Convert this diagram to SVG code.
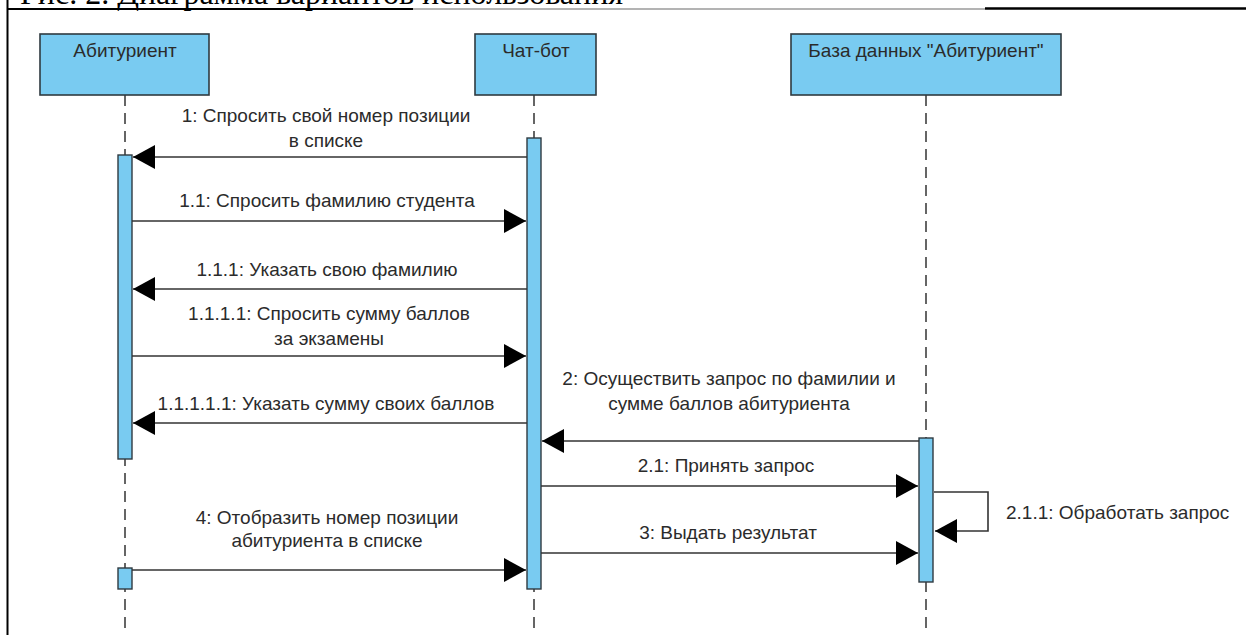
<svg xmlns="http://www.w3.org/2000/svg" width="1246" height="635" viewBox="0 0 1246 635">
<defs>
<style>
.head{fill:#79CBF1;stroke:#2f3a40;stroke-width:1.6}
.act{fill:#79CBF1;stroke:#2f3a40;stroke-width:1.4}
.life{stroke:#333;stroke-width:1.5;stroke-dasharray:11 7;fill:none}
.msg{stroke:#333;stroke-width:1.6;fill:none}
.lbl{font-family:"Liberation Sans",Arial,sans-serif;font-size:19px;fill:#2b2b2b;text-anchor:middle}
.title{font-family:"Liberation Serif","Times New Roman",serif;font-size:32px;fill:#000}
</style>
<marker id="ah" viewBox="0 0 22 24" refX="22" refY="12" markerWidth="22" markerHeight="24" markerUnits="userSpaceOnUse" orient="auto">
<path d="M0,0 L22,12 L0,24 Z" fill="#000"/>
</marker>
</defs>
<rect x="0" y="0" width="1246" height="635" fill="#fff"/>
<text class="title" x="20" y="4">Рис. 2. Диаграмма вариантов использования</text>
<g id="frame">
<line x1="7" y1="9" x2="413" y2="9" stroke="#000" stroke-width="2"/>
<line x1="413" y1="9" x2="985" y2="9" stroke="#9a9a9a" stroke-width="1.5"/>
<line x1="985" y1="8.5" x2="1246" y2="8.5" stroke="#000" stroke-width="2.5"/>
<line x1="7.5" y1="0" x2="7.5" y2="635" stroke="#000" stroke-width="2"/>
</g>
<g id="lifelines">
<line class="life" x1="125" y1="95" x2="125" y2="635"/>
<line class="life" x1="534" y1="95" x2="534" y2="635"/>
<line class="life" x1="926" y1="95" x2="926" y2="635"/>
</g>
<g id="node-abiturient">
<rect class="head" x="40" y="34" width="169" height="61"/>
<text class="lbl" x="125" y="57">Абитуриент</text>
<rect class="act" x="118" y="155" width="14" height="304"/>
<rect class="act" x="118" y="568" width="14" height="21"/>
</g>
<g id="node-chatbot">
<rect class="head" x="475" y="34" width="121" height="61"/>
<text class="lbl" x="536" y="57">Чат-бот</text>
<rect class="act" x="527" y="138" width="14" height="451"/>
</g>
<g id="node-db">
<rect class="head" x="791" y="34" width="270" height="61"/>
<text class="lbl" x="926" y="57">База данных "Абитуриент"</text>
<rect class="act" x="919" y="438" width="14" height="144"/>
</g>
<g id="connectors">
<line class="msg" x1="527" y1="157" x2="133" y2="157" marker-end="url(#ah)"/>
<line class="msg" x1="132" y1="221" x2="526" y2="221" marker-end="url(#ah)"/>
<line class="msg" x1="527" y1="289" x2="133" y2="289" marker-end="url(#ah)"/>
<line class="msg" x1="132" y1="356" x2="526" y2="356" marker-end="url(#ah)"/>
<line class="msg" x1="527" y1="423" x2="133" y2="423" marker-end="url(#ah)"/>
<line class="msg" x1="919" y1="441" x2="542" y2="441" marker-end="url(#ah)"/>
<line class="msg" x1="541" y1="486" x2="918" y2="486" marker-end="url(#ah)"/>
<polyline class="msg" points="934,492 988,492 988,531 935,531" marker-end="url(#ah)"/>
<line class="msg" x1="541" y1="553" x2="918" y2="553" marker-end="url(#ah)"/>
<line class="msg" x1="132" y1="570" x2="526" y2="570" marker-end="url(#ah)"/>
</g>
<g id="labels">
<text class="lbl" x="326" y="122">1: Спросить свой номер позиции</text>
<text class="lbl" x="326" y="147">в списке</text>
<text class="lbl" x="327" y="207">1.1: Спросить фамилию студента</text>
<text class="lbl" x="327" y="276">1.1.1: Указать свою фамилию</text>
<text class="lbl" x="329" y="320">1.1.1.1: Спросить сумму баллов</text>
<text class="lbl" x="329" y="345">за экзамены</text>
<text class="lbl" x="326" y="410">1.1.1.1.1: Указать сумму своих баллов</text>
<text class="lbl" x="729" y="385">2: Осуществить запрос по фамилии и</text>
<text class="lbl" x="729" y="410">сумме баллов абитуриента</text>
<text class="lbl" x="726" y="472">2.1: Принять запрос</text>
<text class="lbl" x="1006" y="519" style="text-anchor:start">2.1.1: Обработать запрос</text>
<text class="lbl" x="728" y="539">3: Выдать результат</text>
<text class="lbl" x="327" y="524">4: Отобразить номер позиции</text>
<text class="lbl" x="327" y="547">абитуриента в списке</text>
</g>
</svg>
